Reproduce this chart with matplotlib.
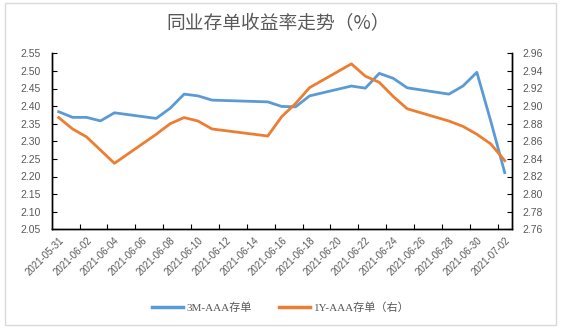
import matplotlib
matplotlib.use("Agg")
import matplotlib.pyplot as plt
from matplotlib.patches import Rectangle
import pandas as pd

plt.rcParams['font.family'] = ['Liberation Sans', 'Noto Sans CJK SC', 'DejaVu Sans']

dates = ['2021-05-31', '2021-06-01', '2021-06-02', '2021-06-03', '2021-06-04',
         '2021-06-07', '2021-06-08', '2021-06-09', '2021-06-10', '2021-06-11',
         '2021-06-15', '2021-06-16', '2021-06-17', '2021-06-18',
         '2021-06-21', '2021-06-22', '2021-06-23', '2021-06-24', '2021-06-25',
         '2021-06-28', '2021-06-29', '2021-06-30', '2021-07-01', '2021-07-02']
cd_3m = [2.384, 2.368, 2.368, 2.358, 2.381,
         2.365, 2.394, 2.434, 2.429, 2.417,
         2.412, 2.399, 2.398, 2.429,
         2.457, 2.451, 2.493, 2.479, 2.452,
         2.434, 2.457, 2.496, 2.357, 2.211]
cd_1y = [2.887, 2.874, 2.865, 2.850, 2.835,
         2.868, 2.880, 2.887, 2.883, 2.874,
         2.866, 2.888, 2.903, 2.921,
         2.948, 2.934, 2.927, 2.911, 2.897,
         2.883, 2.877, 2.868, 2.857, 2.838]

x = pd.to_datetime(dates)
start = pd.Timestamp('2021-05-31')
end = pd.Timestamp('2021-07-02')
half = pd.Timedelta(hours=12)

W, H = 561, 328
fig = plt.figure(figsize=(W / 100, H / 100), dpi=100)
ax = fig.add_axes([51.7 / W, 1 - 229.3 / H, 460 / W, 176 / H])
ax2 = ax.twinx()

blue = '#5B9BD5'
orange = '#ED7D31'
ax.plot(x, cd_3m, color=blue, lw=2.0, solid_joinstyle='round')
ax2.plot(x, cd_1y, color=orange, lw=2.0, solid_joinstyle='round')

ax.set_xlim(start - half, end + half)
ax.set_ylim(2.05, 2.55)
ax.set_yticks([2.05 + 0.05 * i for i in range(11)])
ax.yaxis.set_major_formatter(matplotlib.ticker.FormatStrFormatter('%.2f'))
ax2.set_ylim(2.76, 2.96)
ax2.set_yticks([2.76 + 0.02 * i for i in range(11)])
ax2.yaxis.set_major_formatter(matplotlib.ticker.FormatStrFormatter('%.2f'))

label_days = pd.date_range(start, end, freq='2D')
ax.set_xticks(label_days)
ax.set_xticklabels([d.strftime('%Y-%m-%d') for d in label_days],
                   rotation=45, ha='right', va='top', rotation_mode='anchor')
ax.set_xticks(pd.date_range(start + pd.Timedelta(days=1), end, freq='2D') + half, minor=True)
ax.tick_params(axis='x', which='major', length=0, pad=4, labelsize=7, labelcolor='#595959')
ax.tick_params(axis='x', which='minor', length=3.5, direction='in', color='black', width=0.8)
ax.tick_params(axis='y', direction='in', length=3.5, width=0.8, labelsize=7.5, labelcolor='#595959', pad=8)
ax2.tick_params(axis='y', direction='in', length=3.5, width=0.8, labelsize=7.5, labelcolor='#595959', pad=8)

for a in (ax, ax2):
    a.spines['top'].set_visible(False)
    for s in ('left', 'right', 'bottom'):
        a.spines[s].set_linewidth(1.0)
        a.spines[s].set_color('black')

fig.text(0.495, 1 - 24 / H, '同业存单收益率走势（%）', ha='center', va='center',
         fontsize=13.5, color='#595959', family=['Noto Sans CJK SC', 'DejaVu Sans'])

h1, = ax.plot([], [], color=blue, lw=2.5)
h2, = ax.plot([], [], color=orange, lw=2.5)
fig.legend([h1, h2], ['3M-AAA存单', '1Y-AAA存单（右）'], loc='center',
           bbox_to_anchor=(0.5, 1 - 308 / H), ncol=2, frameon=False,
           prop={'family': ['Liberation Serif', 'Noto Sans CJK SC'], 'size': 8},
           labelcolor='#595959', handlelength=2.8, columnspacing=2.5, handletextpad=0.3)

fig.patches.append(Rectangle((5 / W, 3 / H), 551 / W, 322 / H, transform=fig.transFigure,
                             fill=False, edgecolor='#D9D9D9', lw=1.0))

fig.savefig('out.png', dpi=100)
